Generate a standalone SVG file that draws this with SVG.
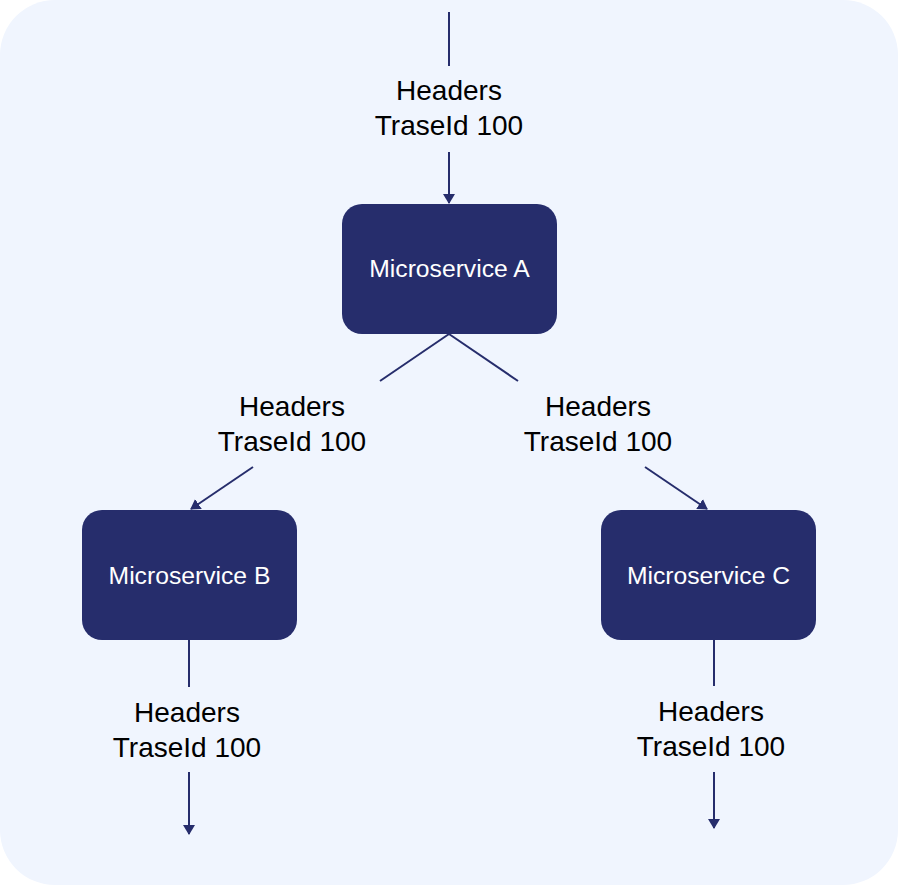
<svg xmlns="http://www.w3.org/2000/svg" width="898" height="885" viewBox="0 0 898 885">
<style>
.node rect{fill:#262d6c}
.node text{fill:#ffffff;font-family:"Liberation Sans",Arial,sans-serif;font-size:24.7px;text-anchor:middle}
.lbl{fill:#000000;font-family:"Liberation Sans",Arial,sans-serif;font-size:28px;text-anchor:middle}
.edge{stroke:#262d6c;stroke-width:2;fill:none}
</style>
<defs>
<marker id="arr" markerWidth="10" markerHeight="12" refX="9" refY="6" orient="auto" markerUnits="userSpaceOnUse" viewBox="0 0 10 12">
<path d="M0,0 L10,6 L0,12 Z" fill="#262d6c"/>
</marker>
</defs>
<rect x="0" y="0" width="898" height="885" rx="55" ry="55" fill="#f0f5fe"/>
<g id="connectors">
<line class="edge" x1="449" y1="12" x2="449" y2="66"/>
<line class="edge" x1="449" y1="152" x2="449" y2="203" marker-end="url(#arr)"/>
<line class="edge" x1="449" y1="334" x2="380" y2="381"/>
<line class="edge" x1="253" y1="467" x2="191" y2="509" marker-end="url(#arr)"/>
<line class="edge" x1="449" y1="334" x2="518" y2="381"/>
<line class="edge" x1="645" y1="467" x2="707" y2="509" marker-end="url(#arr)"/>
<line class="edge" x1="189" y1="639" x2="189" y2="687"/>
<line class="edge" x1="189" y1="772" x2="189" y2="834" marker-end="url(#arr)"/>
<line class="edge" x1="714" y1="639" x2="714" y2="686"/>
<line class="edge" x1="714" y1="772" x2="714" y2="828" marker-end="url(#arr)"/>
<text class="lbl" x="449" y="100">Headers</text>
<text class="lbl" x="449" y="135">TraseId 100</text>
<text class="lbl" x="292" y="416">Headers</text>
<text class="lbl" x="292" y="451">TraseId 100</text>
<text class="lbl" x="598" y="416">Headers</text>
<text class="lbl" x="598" y="451">TraseId 100</text>
<text class="lbl" x="187" y="722">Headers</text>
<text class="lbl" x="187" y="757">TraseId 100</text>
<text class="lbl" x="711" y="721">Headers</text>
<text class="lbl" x="711" y="756">TraseId 100</text>
</g>
<g id="node-a" class="node">
<rect x="342" y="204" width="215" height="130" rx="20" ry="20"/>
<text x="449.5" y="277">Microservice A</text>
</g>
<g id="node-b" class="node">
<rect x="82" y="510" width="215" height="130" rx="20" ry="20"/>
<text x="189.5" y="584">Microservice B</text>
</g>
<g id="node-c" class="node">
<rect x="601" y="510" width="215" height="130" rx="20" ry="20"/>
<text x="708.5" y="584">Microservice C</text>
</g>
</svg>
